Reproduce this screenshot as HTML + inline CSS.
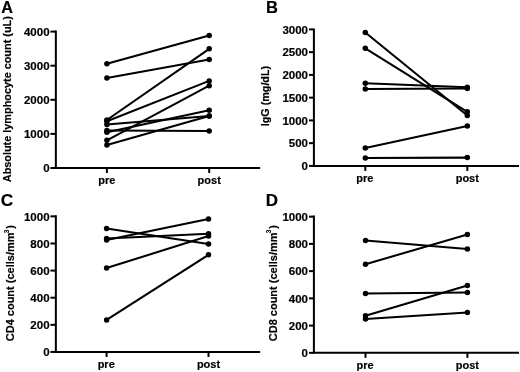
<!DOCTYPE html>
<html><head><meta charset="utf-8"><title>Figure</title>
<style>
html,body{margin:0;padding:0;background:#fff;overflow:hidden;}
svg{display:block;font-family:"Liberation Sans",sans-serif;fill:#000;will-change:transform;}
.t{font-weight:bold;stroke:#000;stroke-width:0.18px;}
</style></head>
<body>
<svg width="520" height="372" viewBox="0 0 520 372">
<rect x="0" y="0" width="520" height="372" fill="#fff"/>
<g>
<text x="1.25" y="12.85" font-size="16.2" class="t">A</text>
<path d="M55.85 30.6V168.0H260.2" fill="none" stroke="#000" stroke-width="2.0" stroke-linejoin="miter"/>
<line x1="50.45" y1="168.0" x2="55.85" y2="168.0" stroke="#000" stroke-width="2.0"/>
<text x="49.55" y="172" font-size="11.5" class="t" text-anchor="end">0</text>
<line x1="50.45" y1="133.9" x2="55.85" y2="133.9" stroke="#000" stroke-width="2.0"/>
<text x="49.55" y="138" font-size="11.5" class="t" text-anchor="end">1000</text>
<line x1="50.45" y1="99.8" x2="55.85" y2="99.8" stroke="#000" stroke-width="2.0"/>
<text x="49.55" y="104" font-size="11.5" class="t" text-anchor="end">2000</text>
<line x1="50.45" y1="65.7" x2="55.85" y2="65.7" stroke="#000" stroke-width="2.0"/>
<text x="49.55" y="70" font-size="11.5" class="t" text-anchor="end">3000</text>
<line x1="50.45" y1="31.6" x2="55.85" y2="31.6" stroke="#000" stroke-width="2.0"/>
<text x="49.55" y="36" font-size="11.5" class="t" text-anchor="end">4000</text>
<line x1="106.9" y1="168.0" x2="106.9" y2="173.0" stroke="#000" stroke-width="2.0"/>
<text x="106.9" y="184.1" font-size="11" class="t" text-anchor="middle">pre</text>
<line x1="209.2" y1="168.0" x2="209.2" y2="173.0" stroke="#000" stroke-width="2.0"/>
<text x="209.2" y="184.1" font-size="11" class="t" text-anchor="middle">post</text>
<text transform="translate(10.5,99.2) rotate(-90)" font-size="11" class="t" text-anchor="middle" textLength="166.0" lengthAdjust="spacingAndGlyphs">Absolute lymphocyte count (uL)</text>
<line x1="106.9" y1="63.7" x2="209.2" y2="35.4" stroke="#000" stroke-width="2.05"/>
<circle cx="106.9" cy="63.7" r="2.75"/><circle cx="209.2" cy="35.4" r="2.75"/>
<line x1="106.9" y1="78.0" x2="209.2" y2="59.6" stroke="#000" stroke-width="2.05"/>
<circle cx="106.9" cy="78.0" r="2.75"/><circle cx="209.2" cy="59.6" r="2.75"/>
<line x1="106.9" y1="120.0" x2="209.2" y2="48.8" stroke="#000" stroke-width="2.05"/>
<circle cx="106.9" cy="120.0" r="2.75"/><circle cx="209.2" cy="48.8" r="2.75"/>
<line x1="106.9" y1="121.2" x2="209.2" y2="80.9" stroke="#000" stroke-width="2.05"/>
<circle cx="106.9" cy="121.2" r="2.75"/><circle cx="209.2" cy="80.9" r="2.75"/>
<line x1="106.9" y1="124.5" x2="209.2" y2="116.0" stroke="#000" stroke-width="2.05"/>
<circle cx="106.9" cy="124.5" r="2.75"/><circle cx="209.2" cy="116.0" r="2.75"/>
<line x1="106.9" y1="130.4" x2="209.2" y2="131.0" stroke="#000" stroke-width="2.05"/>
<circle cx="106.9" cy="130.4" r="2.75"/><circle cx="209.2" cy="131.0" r="2.75"/>
<line x1="106.9" y1="132.3" x2="209.2" y2="110.2" stroke="#000" stroke-width="2.05"/>
<circle cx="106.9" cy="132.3" r="2.75"/><circle cx="209.2" cy="110.2" r="2.75"/>
<line x1="106.9" y1="140.3" x2="209.2" y2="85.7" stroke="#000" stroke-width="2.05"/>
<circle cx="106.9" cy="140.3" r="2.75"/><circle cx="209.2" cy="85.7" r="2.75"/>
<line x1="106.9" y1="144.9" x2="209.2" y2="116.0" stroke="#000" stroke-width="2.05"/>
<circle cx="106.9" cy="144.9" r="2.75"/><circle cx="209.2" cy="116.0" r="2.75"/>
</g>
<g>
<text x="265.9" y="12.85" font-size="16.5" class="t">B</text>
<path d="M313.9 28.4V165.9H519.0" fill="none" stroke="#000" stroke-width="2.0" stroke-linejoin="miter"/>
<line x1="309.0" y1="165.9" x2="313.9" y2="165.9" stroke="#000" stroke-width="2.0"/>
<text x="308.0" y="170" font-size="11.5" class="t" text-anchor="end">0</text>
<line x1="309.0" y1="143.15" x2="313.9" y2="143.15" stroke="#000" stroke-width="2.0"/>
<text x="308.0" y="147" font-size="11.5" class="t" text-anchor="end">500</text>
<line x1="309.0" y1="120.4" x2="313.9" y2="120.4" stroke="#000" stroke-width="2.0"/>
<text x="308.0" y="125" font-size="11.5" class="t" text-anchor="end">1000</text>
<line x1="309.0" y1="97.65" x2="313.9" y2="97.65" stroke="#000" stroke-width="2.0"/>
<text x="308.0" y="102" font-size="11.5" class="t" text-anchor="end">1500</text>
<line x1="309.0" y1="74.9" x2="313.9" y2="74.9" stroke="#000" stroke-width="2.0"/>
<text x="308.0" y="79" font-size="11.5" class="t" text-anchor="end">2000</text>
<line x1="309.0" y1="52.15" x2="313.9" y2="52.15" stroke="#000" stroke-width="2.0"/>
<text x="308.0" y="56" font-size="11.5" class="t" text-anchor="end">2500</text>
<line x1="309.0" y1="29.4" x2="313.9" y2="29.4" stroke="#000" stroke-width="2.0"/>
<text x="308.0" y="34" font-size="11.5" class="t" text-anchor="end">3000</text>
<line x1="365.3" y1="165.9" x2="365.3" y2="170.9" stroke="#000" stroke-width="2.0"/>
<text x="364.9" y="182.0" font-size="11" class="t" text-anchor="middle">pre</text>
<line x1="467.3" y1="165.9" x2="467.3" y2="170.9" stroke="#000" stroke-width="2.0"/>
<text x="467.3" y="182.0" font-size="11" class="t" text-anchor="middle">post</text>
<text transform="translate(269.4,96.1) rotate(-90)" font-size="11" class="t" text-anchor="middle" textLength="60.4" lengthAdjust="spacingAndGlyphs">IgG (mg/dL)</text>
<line x1="365.3" y1="32.5" x2="467.3" y2="115.5" stroke="#000" stroke-width="2.05"/>
<circle cx="365.3" cy="32.5" r="2.75"/><circle cx="467.3" cy="115.5" r="2.75"/>
<line x1="365.3" y1="48.3" x2="467.3" y2="111.8" stroke="#000" stroke-width="2.05"/>
<circle cx="365.3" cy="48.3" r="2.75"/><circle cx="467.3" cy="111.8" r="2.75"/>
<line x1="365.3" y1="83.25" x2="467.3" y2="87.3" stroke="#000" stroke-width="2.05"/>
<circle cx="365.3" cy="83.25" r="2.75"/><circle cx="467.3" cy="87.3" r="2.75"/>
<line x1="365.3" y1="89.1" x2="467.3" y2="88.4" stroke="#000" stroke-width="2.05"/>
<circle cx="365.3" cy="89.1" r="2.75"/><circle cx="467.3" cy="88.4" r="2.75"/>
<line x1="365.3" y1="147.9" x2="467.3" y2="126.0" stroke="#000" stroke-width="2.05"/>
<circle cx="365.3" cy="147.9" r="2.75"/><circle cx="467.3" cy="126.0" r="2.75"/>
<line x1="365.3" y1="157.9" x2="467.3" y2="157.6" stroke="#000" stroke-width="2.05"/>
<circle cx="365.3" cy="157.9" r="2.75"/><circle cx="467.3" cy="157.6" r="2.75"/>
</g>
<g>
<text x="0.7" y="205.7" font-size="17.3" class="t">C</text>
<path d="M55.85 215.3V351.95H260.2" fill="none" stroke="#000" stroke-width="2.0" stroke-linejoin="miter"/>
<line x1="50.45" y1="351.95" x2="55.85" y2="351.95" stroke="#000" stroke-width="2.0"/>
<text x="49.55" y="356" font-size="11.5" class="t" text-anchor="end">0</text>
<line x1="50.45" y1="324.83" x2="55.85" y2="324.83" stroke="#000" stroke-width="2.0"/>
<text x="49.55" y="329" font-size="11.5" class="t" text-anchor="end">200</text>
<line x1="50.45" y1="297.71" x2="55.85" y2="297.71" stroke="#000" stroke-width="2.0"/>
<text x="49.55" y="302" font-size="11.5" class="t" text-anchor="end">400</text>
<line x1="50.45" y1="270.59" x2="55.85" y2="270.59" stroke="#000" stroke-width="2.0"/>
<text x="49.55" y="275" font-size="11.5" class="t" text-anchor="end">600</text>
<line x1="50.45" y1="243.47" x2="55.85" y2="243.47" stroke="#000" stroke-width="2.0"/>
<text x="49.55" y="248" font-size="11.5" class="t" text-anchor="end">800</text>
<line x1="50.45" y1="216.35" x2="55.85" y2="216.35" stroke="#000" stroke-width="2.0"/>
<text x="49.55" y="221" font-size="11.5" class="t" text-anchor="end">1000</text>
<line x1="106.6" y1="351.95" x2="106.6" y2="356.95" stroke="#000" stroke-width="2.0"/>
<text x="106.2" y="367.9" font-size="11" class="t" text-anchor="middle">pre</text>
<line x1="208.5" y1="351.95" x2="208.5" y2="356.95" stroke="#000" stroke-width="2.0"/>
<text x="208.5" y="367.9" font-size="11" class="t" text-anchor="middle">post</text>
<text transform="translate(13.5,283.2) rotate(-90)" font-size="11" class="t" text-anchor="middle">CD4 count (cells/mm<tspan font-size="6.5" dx="-0.8" dy="-4.9">3</tspan><tspan dx="0.8" dy="4.9">)</tspan></text>
<line x1="106.6" y1="228.5" x2="208.5" y2="243.9" stroke="#000" stroke-width="2.05"/>
<circle cx="106.6" cy="228.5" r="2.75"/><circle cx="208.5" cy="243.9" r="2.75"/>
<line x1="106.6" y1="238.6" x2="208.5" y2="233.7" stroke="#000" stroke-width="2.05"/>
<circle cx="106.6" cy="238.6" r="2.75"/><circle cx="208.5" cy="233.7" r="2.75"/>
<line x1="106.6" y1="239.9" x2="208.5" y2="219.0" stroke="#000" stroke-width="2.05"/>
<circle cx="106.6" cy="239.9" r="2.75"/><circle cx="208.5" cy="219.0" r="2.75"/>
<line x1="106.6" y1="268.0" x2="208.5" y2="236.1" stroke="#000" stroke-width="2.05"/>
<circle cx="106.6" cy="268.0" r="2.75"/><circle cx="208.5" cy="236.1" r="2.75"/>
<line x1="106.6" y1="319.9" x2="208.5" y2="254.8" stroke="#000" stroke-width="2.05"/>
<circle cx="106.6" cy="319.9" r="2.75"/><circle cx="208.5" cy="254.8" r="2.75"/>
</g>
<g>
<text x="265.8" y="205.7" font-size="17" class="t">D</text>
<path d="M313.9 215.6V352.85H519.0" fill="none" stroke="#000" stroke-width="2.0" stroke-linejoin="miter"/>
<line x1="309.0" y1="352.85" x2="313.9" y2="352.85" stroke="#000" stroke-width="2.0"/>
<text x="308.0" y="357" font-size="11.5" class="t" text-anchor="end">0</text>
<line x1="309.0" y1="325.61" x2="313.9" y2="325.61" stroke="#000" stroke-width="2.0"/>
<text x="308.0" y="330" font-size="11.5" class="t" text-anchor="end">200</text>
<line x1="309.0" y1="298.37" x2="313.9" y2="298.37" stroke="#000" stroke-width="2.0"/>
<text x="308.0" y="303" font-size="11.5" class="t" text-anchor="end">400</text>
<line x1="309.0" y1="271.13" x2="313.9" y2="271.13" stroke="#000" stroke-width="2.0"/>
<text x="308.0" y="275" font-size="11.5" class="t" text-anchor="end">600</text>
<line x1="309.0" y1="243.89" x2="313.9" y2="243.89" stroke="#000" stroke-width="2.0"/>
<text x="308.0" y="248" font-size="11.5" class="t" text-anchor="end">800</text>
<line x1="309.0" y1="216.65" x2="313.9" y2="216.65" stroke="#000" stroke-width="2.0"/>
<text x="308.0" y="221" font-size="11.5" class="t" text-anchor="end">1000</text>
<line x1="365.5" y1="352.85" x2="365.5" y2="357.85" stroke="#000" stroke-width="2.0"/>
<text x="365.1" y="368.7" font-size="11" class="t" text-anchor="middle">pre</text>
<line x1="467.4" y1="352.85" x2="467.4" y2="357.85" stroke="#000" stroke-width="2.0"/>
<text x="467.4" y="368.7" font-size="11" class="t" text-anchor="middle">post</text>
<text transform="translate(277.0,283.2) rotate(-90)" font-size="11" class="t" text-anchor="middle">CD8 count (cells/mm<tspan font-size="6.5" dx="-0.8" dy="-5.8">3</tspan><tspan dx="0.8" dy="5.8">)</tspan></text>
<line x1="365.5" y1="240.6" x2="467.4" y2="249.1" stroke="#000" stroke-width="2.05"/>
<circle cx="365.5" cy="240.6" r="2.75"/><circle cx="467.4" cy="249.1" r="2.75"/>
<line x1="365.5" y1="264.3" x2="467.4" y2="234.4" stroke="#000" stroke-width="2.05"/>
<circle cx="365.5" cy="264.3" r="2.75"/><circle cx="467.4" cy="234.4" r="2.75"/>
<line x1="365.5" y1="293.6" x2="467.4" y2="292.5" stroke="#000" stroke-width="2.05"/>
<circle cx="365.5" cy="293.6" r="2.75"/><circle cx="467.4" cy="292.5" r="2.75"/>
<line x1="365.5" y1="315.8" x2="467.4" y2="285.4" stroke="#000" stroke-width="2.05"/>
<circle cx="365.5" cy="315.8" r="2.75"/><circle cx="467.4" cy="285.4" r="2.75"/>
<line x1="365.5" y1="319.0" x2="467.4" y2="312.6" stroke="#000" stroke-width="2.05"/>
<circle cx="365.5" cy="319.0" r="2.75"/><circle cx="467.4" cy="312.6" r="2.75"/>
</g>
</svg>
</body></html>
